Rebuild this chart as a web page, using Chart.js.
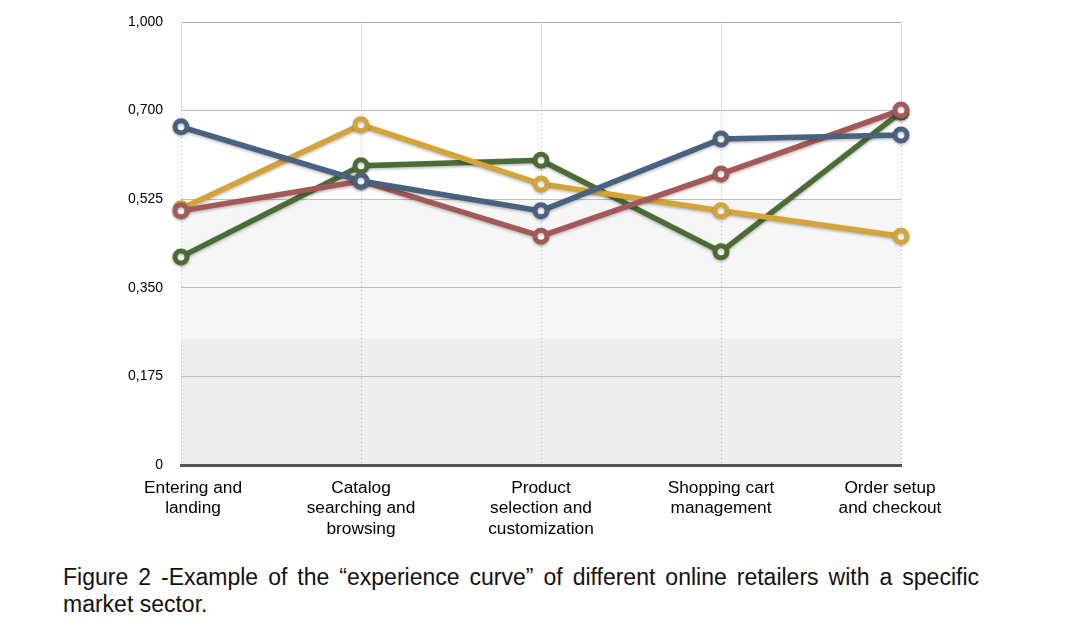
<!DOCTYPE html>
<html>
<head>
<meta charset="utf-8">
<script src="https://cdn.jsdelivr.net/npm/chart.js@4"></script>
<style>
  html, body { margin: 0; padding: 0; background: #fff; }
  body { width: 1082px; height: 633px; position: relative; overflow: hidden; }
  #wrap { position: absolute; left: 0; top: 0; width: 1082px; height: 550px; }
  #caption {
    position: absolute; left: 63px; top: 564px; width: 916px;
    font-family: "Liberation Sans", Arial, sans-serif; font-size: 23px; line-height: 27px;
    text-align: justify; text-align-last: left; color: #111;
  }
</style>
</head>
<body>
<div id="wrap"><canvas id="c"></canvas></div>
<div id="caption">Figure 2 -Example of the “experience curve” of different online retailers with a specific market sector.</div>
<script>
const categories = [
  ['Entering and', 'landing'],
  ['Catalog', 'searching and', 'browsing'],
  ['Product', 'selection and', 'customization'],
  ['Shopping cart', 'management'],
  ['Order setup', 'and checkout']
];
const blueValues   = [0.668, 0.561, 0.502, 0.644, 0.652];
const redValues    = [0.502, 0.561, 0.452, 0.575, 0.701];
const yellowValues = [0.506, 0.672, 0.555, 0.502, 0.452];
const greenValues  = [0.411, 0.591, 0.602, 0.421, 0.697];
const yTickValues  = [0, 0.175, 0.35, 0.525, 0.7, 0.875];
const yTickLabels  = ['0', '0,175', '0,350', '0,525', '0,700', '1,000'];
const bandEdges    = [0, 0.25, 0.525];

const bandColors = ['#eeeeee', '#f6f6f6'];
const labelFont = '17.3px "Liberation Sans", Arial, sans-serif';

const bandsPlugin = {
  id: 'bands',
  beforeDraw(chart) {
    const { ctx, chartArea } = chart;
    const y = chart.scales.y;
    ctx.save();
    for (let i = 0; i < bandEdges.length - 1; i++) {
      const y1 = y.getPixelForValue(bandEdges[i]);
      const y2 = y.getPixelForValue(bandEdges[i + 1]);
      ctx.fillStyle = bandColors[i];
      ctx.fillRect(chartArea.left, y2, chartArea.right - chartArea.left, y1 - y2);
    }
    ctx.restore();
  },
  beforeDatasetsDraw(chart) {
    const { ctx } = chart;
    const y = chart.scales.y, x = chart.scales.x;
    const top = y.getPixelForValue(yTickValues[yTickValues.length - 1]);
    const mid = y.getPixelForValue(yTickValues[yTickValues.length - 2]);
    ctx.save();
    ctx.strokeStyle = '#dddddd';
    ctx.lineWidth = 1;
    for (let i = 0; i < categories.length; i++) {
      const px = Math.round(x.getPixelForValue(i)) + 0.5;
      ctx.beginPath();
      ctx.moveTo(px, top);
      ctx.lineTo(px, mid);
      ctx.stroke();
    }
    ctx.restore();
  },
  afterDraw(chart) {
    const { ctx } = chart;
    const x = chart.scales.x;
    const top = chart.chartArea.bottom + 15;
    ctx.save();
    ctx.font = labelFont;
    ctx.fillStyle = '#000';
    ctx.textAlign = 'center';
    ctx.textBaseline = 'middle';
    const n = categories.length;
    for (let i = 0; i < n; i++) {
      let px = x.getPixelForValue(i);
      if (i === 0) px += 12;
      if (i === n - 1) px -= 11;
      categories[i].forEach((line, j) => {
        ctx.fillText(line, px, top + 8 + j * 20.5);
      });
    }
    ctx.restore();
  }
};

const shadowPlugin = {
  id: 'shadow',
  beforeDatasetDraw(chart) {
    const ctx = chart.ctx;
    ctx.save();
    ctx.shadowColor = 'rgba(0,0,0,0.28)';
    ctx.shadowBlur = 3;
    ctx.shadowOffsetX = 0;
    ctx.shadowOffsetY = 1.5;
  },
  afterDatasetDraw(chart) {
    chart.ctx.restore();
  }
};

function series(data, color, order) {
  return {
    data,
    borderColor: color,
    backgroundColor: '#ffffff',
    pointBackgroundColor: '#ffffff',
    pointBorderColor: color,
    pointRadius: 6,
    pointBorderWidth: 5,
    pointHoverRadius: 6,
    borderWidth: 5.5,
    tension: 0,
    clip: false,
    order
  };
}

new Chart(document.getElementById('c'), {
  type: 'line',
  data: {
    labels: categories,
    datasets: [
      series(blueValues, '#48627f', 0),
      series(redValues, '#a35957', 1),
      series(yellowValues, '#d3a43a', 2),
      series(greenValues, '#4b6c35', 3)
    ]
  },
  options: {
    responsive: true,
    maintainAspectRatio: false,
    animation: false,
    events: [],
    layout: { padding: { left: 0, right: 181, top: 22, bottom: 0 } },
    plugins: { legend: { display: false }, tooltip: { enabled: false } },
    scales: {
      x: {
        type: 'category',
        offset: false,
        grid: { display: true, color: '#b5b5b5', drawTicks: false, lineWidth: 1 },
        border: { display: true, color: '#555555', width: 3, dash: [1, 3] },
        ticks: { display: false, autoSkip: false, maxRotation: 0 },
        afterFit(scale) { scale.height = 85; }
      },
      y: {
        type: 'linear',
        min: 0,
        max: yTickValues[yTickValues.length - 1],
        afterBuildTicks(scale) { scale.ticks = yTickValues.map(v => ({ value: v })); },
        grid: {
          drawTicks: false,
          color: (c) => c.index === yTickValues.length - 1 ? '#a9a9a9' : '#bdbdbd',
          lineWidth: 1
        },
        border: { display: false },
        ticks: {
          color: '#000',
          font: { family: '"Liberation Sans", Arial, sans-serif', size: 14 },
          padding: 18,
          callback: (v, i) => yTickLabels[i]
        },
        afterFit(scale) { scale.width = 181; scale.paddingTop = 0; scale.paddingBottom = 0; }
      }
    }
  },
  plugins: [bandsPlugin, shadowPlugin]
});
</script>
</body>
</html>
